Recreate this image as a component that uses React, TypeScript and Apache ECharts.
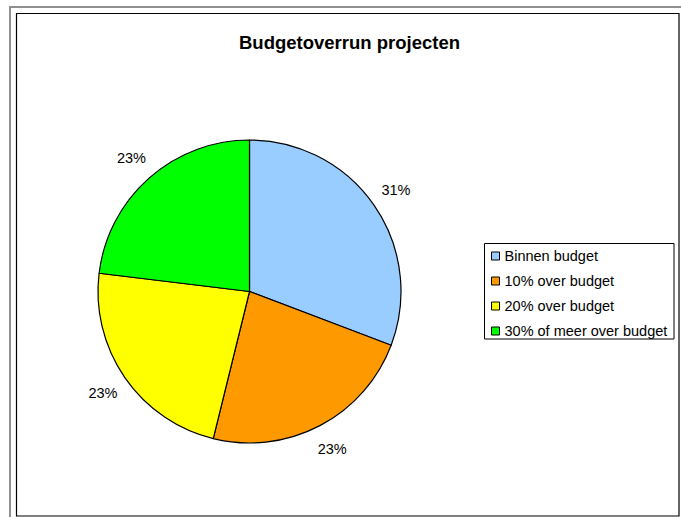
import React, { useEffect, useRef } from "react";
import * as echarts from "echarts";

const categories = ["Binnen budget", "10% over budget", "20% over budget", "30% of meer over budget"];
const values = [4, 3, 3, 3];
const colors = ["#99CCFF", "#FF9900", "#FFFF00", "#00FF00"];
const title = "Budgetoverrun projecten";

export default function App() {
  const ref = useRef<HTMLDivElement>(null);
  useEffect(() => {
    if (!ref.current) return;
    const chart = echarts.init(ref.current, undefined, { renderer: "svg" });
    const font = "Liberation Sans, Arial, sans-serif";
    const center = [249.5, 291.5];
    chart.setOption({
      animation: false,
      backgroundColor: "#ffffff",
      title: {
        text: title,
        left: 349.5,
        textAlign: "center",
        top: 33,
        padding: 0,
        textStyle: { fontFamily: font, fontSize: 18.5, fontWeight: "bold", color: "#000" },
      },
      legend: {
        orient: "vertical",
        left: 491,
        top: 247.5,
        padding: 0,
        itemGap: 8,
        itemWidth: 8,
        itemHeight: 8,
        icon: "rect",
        itemStyle: { borderColor: "#000", borderWidth: 1 },
        textStyle: { fontFamily: font, fontSize: 14.5, color: "#000", lineHeight: 17 },
        data: categories,
      },
      graphic: [
        { type: "line", shape: { x1: 10, y1: 6, x2: 10, y2: 517 }, style: { stroke: "#8f8f8f", lineWidth: 2 } },
        { type: "line", shape: { x1: 9, y1: 7, x2: 681, y2: 7 }, style: { stroke: "#8f8f8f", lineWidth: 2 } },
        { type: "rect", shape: { x: 16.5, y: 13.5, width: 662.5, height: 502.5 }, style: { fill: "none", stroke: "#000", lineWidth: 1.2 } },
        { type: "rect", shape: { x: 484.5, y: 243.5, width: 189.5, height: 95.5 }, style: { fill: "none", stroke: "#000", lineWidth: 1 } },
      ],
      series: [
        {
          type: "pie",
          center,
          radius: 151.5,
          startAngle: 90,
          clockwise: true,
          data: categories.map((c, i) => ({ name: c, value: values[i], itemStyle: { color: colors[i] } })),
          itemStyle: { borderColor: "#000", borderWidth: 1.2 },
          label: { show: false },
          labelLine: { show: false },
          emphasis: { disabled: true },
        },
        {
          type: "pie",
          center,
          radius: [174, 176],
          startAngle: 90,
          clockwise: true,
          silent: true,
          legendHoverLink: false,
          data: categories.map((c, i) => ({ name: c, value: values[i] })),
          itemStyle: { color: "rgba(0,0,0,0)", borderWidth: 0 },
          label: {
            show: true,
            position: "inside",
            formatter: (p: any) => Math.round(p.percent) + "%",
            fontFamily: font,
            fontSize: 14.5,
            color: "#000",
          },
          labelLine: { show: false },
          emphasis: { disabled: true },
        },
      ],
    });
    return () => chart.dispose();
  }, []);
  return <div ref={ref} style={{ position: "fixed", left: 0, top: 0, width: 681, height: 517 }} />;
}
